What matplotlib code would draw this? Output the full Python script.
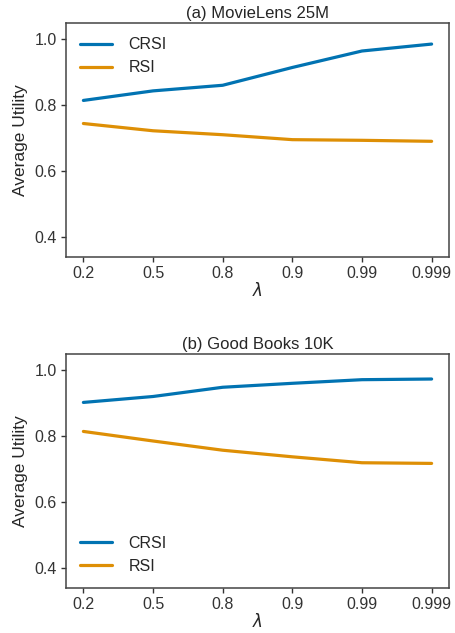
import matplotlib
matplotlib.use("Agg")
import matplotlib.pyplot as plt
import seaborn as sns

lambdas = ["0.2", "0.5", "0.8", "0.9", "0.99", "0.999"]
ml_crsi = [0.815, 0.844, 0.861, 0.915, 0.965, 0.986]
ml_rsi = [0.745, 0.723, 0.711, 0.696, 0.694, 0.691]
gb_crsi = [0.903, 0.921, 0.949, 0.961, 0.972, 0.974]
gb_rsi = [0.815, 0.786, 0.758, 0.738, 0.720, 0.718]

sns.set_theme(style="ticks")
plt.rcParams['font.family'] = ['Liberation Sans', 'DejaVu Sans']
pal = sns.color_palette("colorblind")
blue, orange = pal[0], pal[1]

fig = plt.figure(figsize=(4.56, 6.33), dpi=100)
ax1 = fig.add_axes([0.1447, 0.594, 0.84, 0.3697])
ax2 = fig.add_axes([0.1447, 0.0711, 0.84, 0.3697])

x = list(range(len(lambdas)))
for ax, crsi, rsi, title, loc in [
    (ax1, ml_crsi, ml_rsi, "(a) MovieLens 25M", "upper left"),
    (ax2, gb_crsi, gb_rsi, "(b) Good Books 10K", "lower left"),
]:
    ax.plot(x, crsi, color=blue, lw=2.3, label="CRSI")
    ax.plot(x, rsi, color=orange, lw=2.3, label="RSI")
    ax.set_xticks(x)
    ax.set_xticklabels(lambdas, fontsize=11.5)
    ax.set_ylim(0.34, 1.05)
    ax.set_yticks([0.4, 0.6, 0.8, 1.0])
    ax.set_yticklabels(["0.4", "0.6", "0.8", "1.0"], fontsize=11.5)
    ax.set_xlim(-0.25, 5.25)
    ax.tick_params(length=3.5, width=1, pad=3, colors="#333333")
    for s in ax.spines.values():
        s.set_color("#444444")
        s.set_linewidth(1.1)
    ax.set_title(title, fontsize=12, pad=3.5)
    ax.set_ylabel("Average Utility", fontsize=12.5, labelpad=5)
    ax.set_xlabel(r"$\lambda$", fontsize=12, labelpad=0)
    ax.legend(loc=loc, frameon=False, fontsize=11.5, handlelength=2.0,
              handletextpad=1.0)

fig.savefig("out.png", dpi=100)
